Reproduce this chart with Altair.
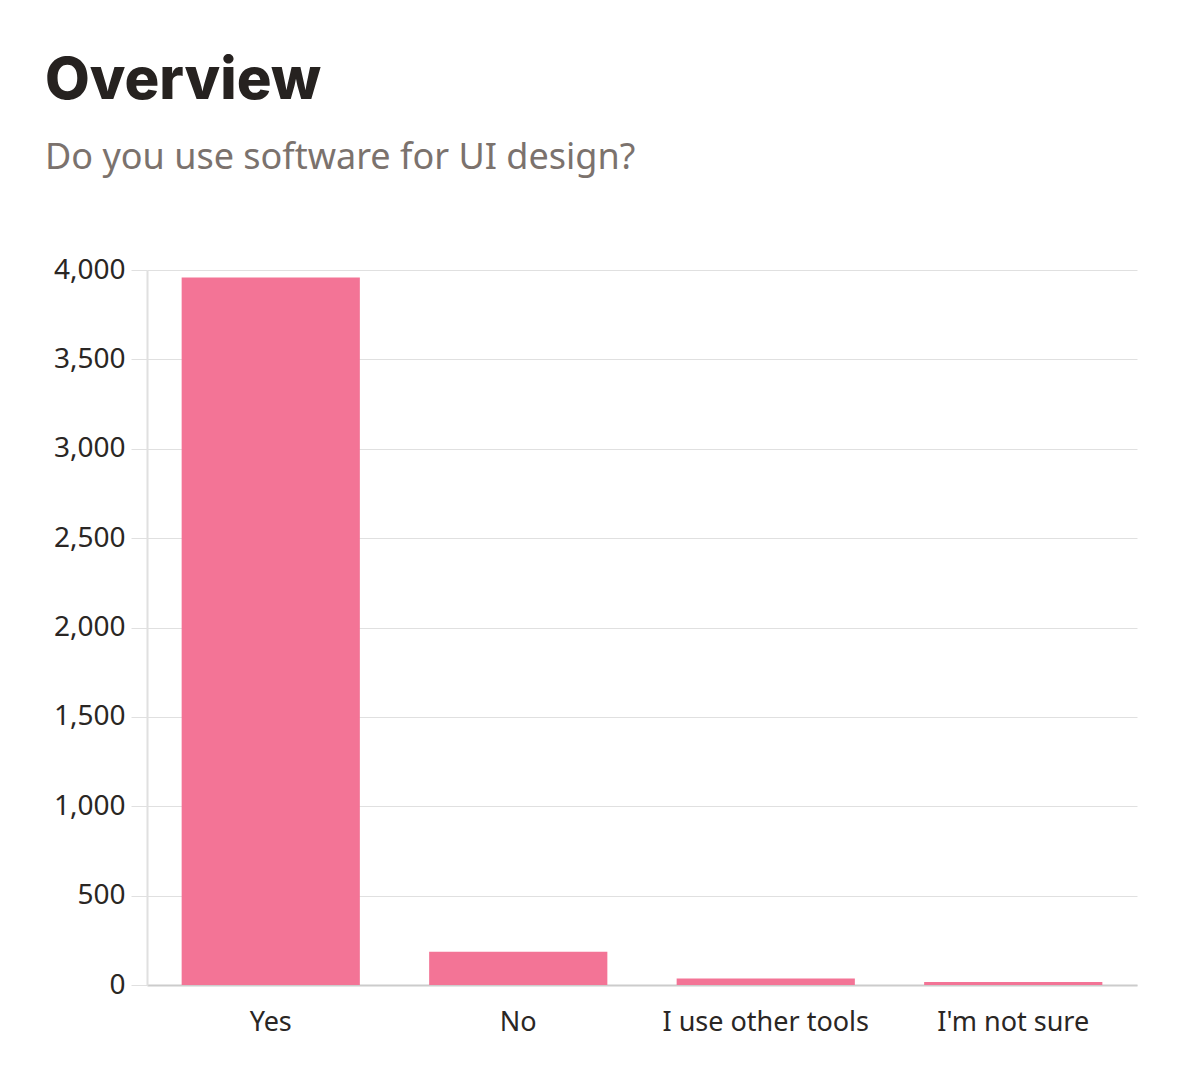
import altair as alt
import pandas as pd

categories = ["Yes", "No", "I use other tools", "I'm not sure"]
counts = [3958, 186, 37, 17]

df = pd.DataFrame({"answer": categories, "count": counts})

chart = (
    alt.Chart(df)
    .mark_bar(color="#f37496")
    .encode(
        x=alt.X(
            "answer:N",
            sort=categories,
            title=None,
            scale=alt.Scale(paddingInner=0.28, paddingOuter=0.14),
            axis=alt.Axis(
                labelAngle=0,
                labelFont="Noto Sans",
                labelFontSize=27,
                labelColor="#2a2624",
                labelPadding=24,
                labelLimit=400,
                ticks=False,
                domainColor="#cccccc",
                domainWidth=2,
            ),
        ),
        y=alt.Y(
            "count:Q",
            title=None,
            scale=alt.Scale(domain=[0, 4000]),
            axis=alt.Axis(
                values=[0, 500, 1000, 1500, 2000, 2500, 3000, 3500, 4000],
                format=",d",
                labelFont="Noto Sans",
                labelFontSize=28,
                labelColor="#2a2624",
                labelPadding=6,
                tickSize=16,
                tickColor="#e0e0e0",
                gridColor="#e0e0e0",
                domainColor="#e0e0e0",
                domainWidth=2,
            ),
        ),
    )
    .properties(
        width=990,
        height=715,
        padding={"left": 147, "top": 270, "right": 59, "bottom": 89},
        autosize=alt.AutoSizeParams(type="none"),
        title=alt.TitleParams(
            text="Overview",
            subtitle="Do you use software for UI design?",
            anchor="start",
            frame="group",
            dx=-102,
            offset=80,
            font="Inter",
            fontSize=58,
            fontWeight=800,
            color="#262220",
            subtitleFont="Noto Sans",
            subtitleFontSize=36,
            subtitleColor="#7b726d",
            subtitlePadding=30,
        ),
    )
    .configure(background="white")
    .configure_view(strokeWidth=0, stroke="transparent")
)

chart.save("out.html", embed_options={"renderer": "svg", "actions": False})
